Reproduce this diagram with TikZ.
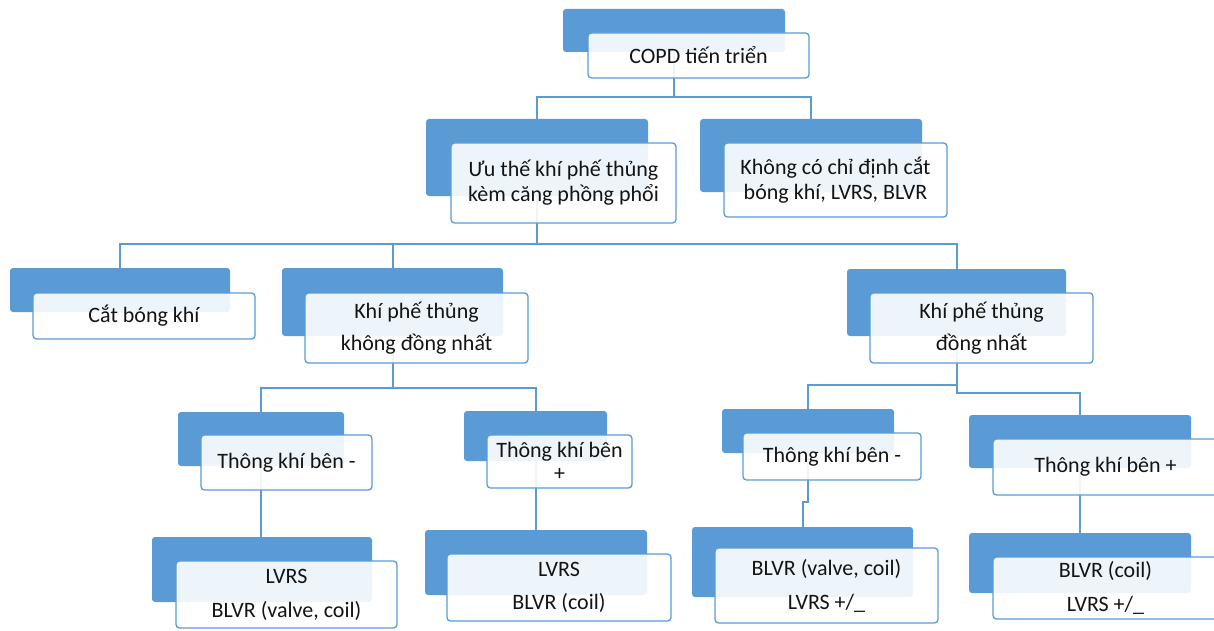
\documentclass[tikz,border=0pt]{standalone}
\usepackage{fontspec}
\setmainfont{Carlito}
\definecolor{bl}{HTML}{5B9BD5}
\definecolor{txt}{HTML}{141414}
\newcommand\backbox[5]{\node[backs, minimum width=#4-#2, minimum height=#5-#3] (#1) at ({(#2+#4)/2},{(#3+#5)/2}) {};}
\newcommand\frontbox[6]{\node[fronts, minimum width=#4-#2, minimum height=#5-#3] (#1) at ({(#2+#4)/2},{(#3+#5)/2}) {#6};}
\begin{document}
\begin{tikzpicture}[x=1pt,y=-1pt,
  backs/.style={rectangle, fill=bl, rounded corners=3pt, inner sep=0pt, outer sep=0pt, draw=none},
  fronts/.style={rectangle, draw=bl, line width=1.3pt, fill=white, fill opacity=0.9, text opacity=1,
    rounded corners=3.5pt, inner sep=0pt, outer sep=0pt, align=center, text=txt,
    font=\fontsize{22}{25}\selectfont},
  conn/.style={draw=bl, line width=2pt}]
\useasboundingbox (0,0) rectangle (1214,631);
\clip (0,0) rectangle (1214,631);
% back boxes
\backbox{top-b}{563}{9}{785}{52}
\backbox{ua-b}{426}{119}{648}{196}
\backbox{kh-b}{700}{119}{922}{192}
\backbox{cat-b}{10}{268}{230}{312}
\backbox{kdn-b}{282}{268}{503}{336}
\backbox{dn-b}{847}{269}{1066}{336}
\backbox{t1-b}{178}{412}{344}{466}
\backbox{t2-b}{464}{411}{607}{461}
\backbox{t3-b}{722}{409}{894}{453}
\backbox{t4-b}{969}{415}{1191}{468}
\backbox{l1-b}{152}{537}{372}{602}
\backbox{l2-b}{425}{530}{647}{595}
\backbox{l3-b}{692}{527}{913}{597}
\backbox{l4-b}{969}{533}{1191}{593}
% bus levels
\coordinate (b1) at (0,97);
\coordinate (b2) at (0,244);
\coordinate (b3) at (0,388);
\coordinate (b4) at (0,385);
\coordinate (b5) at (0,393);
\coordinate (b6) at (0,502);
% connectors
\draw[conn] (top-b.center) -- (top-b.center |- b1) -| (ua-b.north);
\draw[conn] (top-b.center |- b1) -| (kh-b.north);
\draw[conn] (ua-b.center) -- (ua-b.center |- b2) -| (cat-b.north);
\draw[conn] (ua-b.center |- b2) -| (kdn-b.north);
\draw[conn] (ua-b.center |- b2) -| (dn-b.north);
\draw[conn] (kdn-b.center) -- (kdn-b.center |- b3) -| (t1-b.north);
\draw[conn] (kdn-b.center |- b3) -| (t2-b.north);
\draw[conn] (t1-b.center) -- (t1-b.center |- l1-b.north);
\draw[conn] (t2-b.center) -- (t2-b.center |- l2-b.north);
\draw[conn] (dn-b.center) -- (dn-b.center |- b4) -| (t3-b.north);
\draw[conn] (dn-b.center |- b4) -- (dn-b.center |- b5) -| (t4-b.north);
\draw[conn] (t3-b.center) -- (t3-b.center |- b6) -| (l3-b.north);
\draw[conn] (t4-b.center) -- (t4-b.center |- l4-b.north);
% front boxes
\frontbox{top}{588}{33}{809}{78}{COPD tiến triển}
\frontbox{ua}{451}{143}{676}{223}{Ưu thế khí phế thủng\\kèm căng phồng phổi}
\frontbox{kh}{724}{143}{947}{217}{Không có chỉ định cắt\\bóng khí, LVRS, BLVR}
\frontbox{cat}{33}{293}{255}{339}{Cắt bóng khí}
\frontbox{kdn}{305}{293}{528}{363}{Khí phế thủng\\[7pt]không đồng nhất}
\frontbox{dn}{870}{293}{1093}{363}{Khí phế thủng\\[7pt]đồng nhất}
\frontbox{t1}{201}{435}{372}{490}{Thông khí bên -}
\frontbox{t2}{487}{435}{632}{488}{Thông khí bên\\[-2pt]+}
\frontbox{t3}{743}{433}{921}{480}{Thông khí bên -}
\frontbox{t4}{993}{439}{1218}{495}{Thông khí bên +}
\frontbox{l1}{176}{561}{397}{628}{LVRS\\[9pt]BLVR (valve, coil)}
\frontbox{l2}{447}{554}{671}{621}{LVRS\\[8pt]BLVR (coil)}
\frontbox{l3}{715}{548}{938}{623}{BLVR (valve, coil)\\[9pt]LVRS +/\_}
\frontbox{l4}{993}{557}{1218}{619}{BLVR (coil)\\[9pt]LVRS +/\_}
\end{tikzpicture}
\end{document}
